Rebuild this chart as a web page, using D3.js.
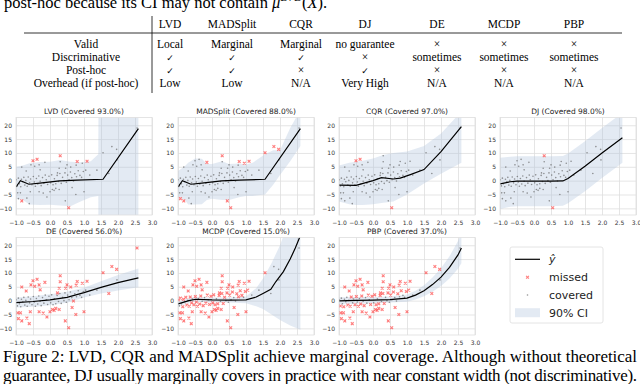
<!DOCTYPE html>
<html>
<head>
<meta charset="utf-8">
<script src="https://cdn.jsdelivr.net/npm/d3@7"></script>
<style>
body { margin: 0; background: #fff; }
svg { display: block; }
</style>
</head>
<body>
<div id="chart"></div>
<script>
// ---- table data ----
var methods = ["LVD", "MADSplit", "CQR", "DJ", "DE", "MCDP", "PBP"];
var rowLabels = ["Valid", "Discriminative", "Post-hoc", "Overhead (if post-hoc)"];
var tableCells = [
  ["Local", "\u2713", "\u2713", "Low"],
  ["Marginal", "\u2713", "\u2713", "Low"],
  ["Marginal", "\u2713", "\u00d7", "N/A"],
  ["no guarantee", "\u00d7", "\u2713", "Very High"],
  ["\u00d7", "sometimes", "\u00d7", "N/A"],
  ["\u00d7", "sometimes", "\u00d7", "N/A"],
  ["\u00d7", "sometimes", "\u00d7", "N/A"]
];

// ---- scatter data (same points in every panel) ----
var pointX = [-0.83, -0.95, -0.87, -0.93, -0.83, -0.61, -0.58, -0.56, -0.50, -0.38, -0.45, -0.32, -0.29, -0.32, -0.15,
  -0.09, 0.00, 0.07, 0.17, 0.27, 0.30, 0.30, 0.27, 0.46, 0.50, 0.61, 0.45, 0.55, 0.80, 0.77, 0.76, 0.95, 1.09, 1.00,
  1.56, 1.82, 1.96, 2.56, -0.68, -0.20, 0.12, 0.22, -0.70, 0.65,
  -0.99, -0.96, -0.93, -0.90, -0.86, -0.84, -0.80, -0.77, -0.74, -0.71, -0.67, -0.64, -0.60, -0.57, -0.53,
  -0.49, -0.46, -0.43, -0.40, -0.36, -0.33, -0.29, -0.26, -0.22, -0.18, -0.14, -0.11, -0.07, -0.03,
  0.02, 0.05, 0.09, 0.13, 0.17, 0.21, 0.25, 0.29, 0.33, 0.37, 0.41, 0.44, 0.48,
  0.52, 0.56, 0.60, 0.64, 0.69, 0.73, 0.78, 0.83, 0.88, 0.93, 0.98,
  1.05, 1.17, 1.38, 1.97, 1.73];
var pointY = [4.9, -4.4, -4.4, -6.5, -7.3, -8.3, -4.0, 5.7, 7.2, 7.7, 5.2, 5.7, 3.9, -4.0, 6.6,
  -5.9, -4.0, -3.2, -2.8, -3.2, 9.0, 6.8, 4.5, 4.5, 5.7, 4.9, -7.3, -9.8, 6.9, 5.6, -5.0, 6.3, 7.0, -4.0,
  10.1, 12.3, 11.3, 19.0, -6.3, -4.5, -3.5, 2.8, 3.5, -2.5,
  0.3, -1.9, 0.9, -1.1, -2.2, 0.5, -0.4, 1.2, -1.6, 0.1, -2.0, 1.3, -0.8, 0.6, -1.5,
  1.5, -0.5, -2.0, 0.8, -1.2, 1.7, -0.2, -1.8, 1.1, -0.9, 2.0, 0.3, -1.4, 1.6,
  -0.8, 2.1, -1.5, 0.7, -1.1, 1.9, -0.3, 2.6, -1.0, 1.2, 0.0, 2.8, -0.6,
  2.0, 0.3, 3.1, 1.1, -0.1, 2.5, 1.4, 3.6, 1.9, 1.2, 3.3,
  3.8, 2.0, 3.8, 7.5, 2.6];

// ---- per-panel prediction lines and intervals ----
var titles = ["LVD (Covered 93.0%)", "MADSplit (Covered 88.0%)", "CQR (Covered 97.0%)", "DJ (Covered 98.0%)",
  "DE (Covered 56.0%)", "MCDP (Covered 15.0%)", "PBP (Covered 37.0%)"];

var baseLineX = [-1, -0.87, -0.62, -0.3, 0.28, 0.8, 1.56, 2.6];
var baseLineY = [-2.3, 0.0, -1.3, -0.9, -0.1, 0.2, 0.5, 18.8];

var lvdBandX = [-1, -0.8, -0.6, -0.3, 0, 0.3, 0.6, 0.9, 1.2, 1.42, 1.43, 2.6];
var lvdLower = [-6.5, -7.0, -8.6, -8.8, -8.7, -9.0, -9.2, -7.5, -6.0, -5.5, -40, -40];
var lvdUpper = [5.0, 5.5, 6.3, 6.7, 6.8, 7.5, 6.8, 6.6, 7.0, 9.5, 40, 40];

var madBandX = [-1, -0.8, -0.7, -0.5, -0.3, -0.15, 0, 0.3, 0.5, 0.8, 1.0, 1.2, 1.56, 1.8, 2.0, 2.3, 2.6];
var madLower = [-6.0, -7.0, -8.6, -8.6, -8.5, -7.0, -6.5, -7.0, -7.0, -6.0, -5.5, -5.5, -5.0, -1.5, 2.0, 7.0, 12.5];
var madUpper = [3.5, 5.2, 6.5, 8.0, 7.9, 6.0, 6.0, 7.0, 6.0, 6.2, 5.8, 6.5, 9.5, 11.0, 11.0, 19.0, 25.5];

var cqrLineX = [-1, -0.5, 0, 0.25, 0.6, 0.8, 1.1, 1.5, 2.0, 2.6];
var cqrLineY = [-1.6, -1.7, 0.0, 1.1, 0.6, 0.9, 2.2, 4.0, 10.5, 19.5];
var cqrBandX = [-1, -0.7, -0.5, -0.3, 0, 0.3, 0.6, 1.0, 1.5, 2.0, 2.3, 2.6];
var cqrLower = [-7.5, -8.5, -8.8, -8.8, -8.5, -8.0, -7.5, -5.0, -1.0, 2.5, 4.5, 6.5];
var cqrUpper = [5.5, 6.5, 6.8, 7.2, 8.0, 9.3, 10.0, 10.5, 12.5, 17.0, 21.0, 25.0];

var djLineX = [-1, -0.7, -0.5, 0, 0.5, 0.85, 1.0, 1.5, 2.0, 2.6];
var djLineY = [-1.2, -0.4, -0.2, -0.2, -0.2, -0.1, 0.8, 5.2, 10.0, 15.5];
var djLower = [-10.2, -9.4, -9.2, -9.2, -9.2, -9.1, -8.2, -3.8, 1.0, 6.5];
var djUpper = [8.3, 8.6, 8.8, 8.8, 8.8, 8.9, 9.8, 14.2, 19.0, 24.5];

var deLineX = [-1, -0.5, 0, 0.5, 1.0, 1.5, 2.0, 2.6];
var deLineY = [-0.7, -0.3, 0.3, 1.2, 2.9, 4.8, 6.5, 8.2];
var deLower = [-2.5, -2.2, -1.7, -0.8, 1.1, 2.6, 3.7, 4.8];
var deUpper = [1.1, 1.6, 2.3, 3.2, 4.7, 7.0, 9.3, 11.6];

var mcdpLineX = [-1, -0.68, -0.48, 0, 0.5, 1.0, 1.3, 1.5, 1.73, 1.88, 2.1, 2.3, 2.45, 2.6];
var mcdpLineY = [-1.2, 0.0, 0.5, 0.25, 0.2, 0.3, 1.3, 2.6, 4.1, 6.9, 10.5, 15.0, 19.0, 23.5];
var mcdpBandX = [-1, -0.7, -0.5, 0, 0.5, 1.0, 1.3, 1.5, 1.75, 2.0, 2.3, 2.6];
var mcdpLower = [-2.1, -0.9, -0.4, -0.65, -0.7, -0.9, -2.0, -3.0, -5.0, -7.0, -9.0, -10.5];
var mcdpUpper = [-0.3, 0.9, 1.4, 1.15, 1.1, 1.5, 4.5, 8.0, 13.5, 20.0, 30.0, 40.0];

var pbpLineX = [-1, -0.5, 0, 0.5, 1.0, 1.25, 1.5, 1.75, 2.0, 2.25, 2.5, 2.6];
var pbpLineY = [-0.1, 0.1, 0.2, 0.4, 0.9, 2.0, 3.6, 5.8, 8.5, 12.0, 16.5, 19.0];
var pbpLower = [-1.4, -1.1, -0.9, -0.7, -0.4, 0.4, 1.6, 3.2, 5.3, 8.0, 11.5, 13.5];
var pbpUpper = [1.2, 1.3, 1.3, 1.5, 2.2, 3.6, 5.6, 8.4, 11.7, 16.0, 21.5, 24.5];

var xTicks = [-1.0, -0.5, 0.0, 0.5, 1.0, 1.5, 2.0, 2.5, 3.0];
var yTicks = [-10, -5, 0, 5, 10, 15, 20];
var legendLabels = ["\u0177", "missed", "covered", "90% CI"];

var captionLines = [
  "Figure 2:  LVD, CQR and MADSplit achieve marginal coverage. Although without theoretical",
  "guarantee, DJ usually marginally covers in practice with near constant width (not discriminative)."
];

// ---- layout ----
var svgWidth = 640, svgHeight = 384;
var panelLeft = [16, 178, 339, 500];
var rowTop = [117.5, 237.5];
var plotW = 136, plotH = 97.5;
var serif = "'Liberation Serif', 'Times New Roman', serif";
var sans = "'DejaVu Sans', sans-serif";

var svg = d3.select("#chart").append("svg")
  .attr("width", svgWidth)
  .attr("height", svgHeight);

// intro line, cut by the top edge as in the page crop
var intro = svg.append("text")
  .attr("x", 4).attr("y", 8)
  .style("font-family", serif).style("font-size", "16.5px");
intro.append("tspan").text("post-hoc because its CI may not contain ");
intro.append("tspan").style("font-style", "italic").text("\u03bc\u0302");
intro.append("tspan").attr("dy", -7).style("font-size", "11px").text("LVD");
intro.append("tspan").attr("dy", 7).text("(");
intro.append("tspan").style("font-style", "italic").text("X");
intro.append("tspan").text(").");

// ---- table ----
var colX = [170, 232, 301, 365, 437, 504, 574];
var labelX = 86;
var table = svg.append("g").style("font-family", serif).style("font-size", "11.5px");

table.selectAll("text.head")
  .data(methods)
  .enter()
  .append("text")
  .attr("class", "head")
  .attr("x", (d, i) => colX[i])
  .attr("y", 28)
  .attr("text-anchor", "middle")
  .text(d => d);

table.append("line")
  .attr("x1", 24).attr("x2", 622)
  .attr("y1", 33).attr("y2", 33)
  .attr("stroke", "#000").attr("stroke-width", 0.8);

table.append("line")
  .attr("x1", 152).attr("x2", 152)
  .attr("y1", 16).attr("y2", 93)
  .attr("stroke", "#000").attr("stroke-width", 0.8);

var rowY = [48, 61, 74, 87];
table.selectAll("text.rowlab")
  .data(rowLabels)
  .enter()
  .append("text")
  .attr("class", "rowlab")
  .attr("x", labelX)
  .attr("y", (d, i) => rowY[i])
  .attr("text-anchor", "middle")
  .text(d => d);

tableCells.forEach(function(col, ci) {
  table.selectAll("text.c" + ci)
    .data(col)
    .enter()
    .append("text")
    .attr("class", "c" + ci)
    .attr("x", colX[ci])
    .attr("y", (d, i) => rowY[i])
    .attr("text-anchor", "middle")
    .style("font-family", d => d === "\u2713" ? sans : serif)
    .style("font-size", d => d === "\u2713" ? "9px" : "11.5px")
    .text(d => d);
});

// ---- panels ----
function interp(xs, ys, v) {
  if (v <= xs[0]) return ys[0];
  if (v >= xs[xs.length - 1]) return ys[ys.length - 1];
  for (var i = 1; i < xs.length; i++) {
    if (v <= xs[i]) {
      var t = (v - xs[i - 1]) / (xs[i] - xs[i - 1]);
      return ys[i - 1] + t * (ys[i] - ys[i - 1]);
    }
  }
}

var panels = [
  { lx: baseLineX, ly: baseLineY, bx: lvdBandX, lo: lvdLower, hi: lvdUpper },
  { lx: baseLineX, ly: baseLineY, bx: madBandX, lo: madLower, hi: madUpper },
  { lx: cqrLineX, ly: cqrLineY, bx: cqrBandX, lo: cqrLower, hi: cqrUpper },
  { lx: djLineX, ly: djLineY, bx: djLineX, lo: djLower, hi: djUpper },
  { lx: deLineX, ly: deLineY, bx: deLineX, lo: deLower, hi: deUpper },
  { lx: mcdpLineX, ly: mcdpLineY, bx: mcdpBandX, lo: mcdpLower, hi: mcdpUpper },
  { lx: pbpLineX, ly: pbpLineY, bx: pbpLineX, lo: pbpLower, hi: pbpUpper }
];

var x = d3.scaleLinear().domain([-1, 3]).range([0, plotW]);
var y = d3.scaleLinear().domain([-12.4, 22.8]).range([plotH, 0]);
var fmtX = d => d3.format(".1f")(d).replace("-", "\u2212");
var fmtY = d => String(d).replace("-", "\u2212");

var points = pointX.map((px, i) => ({ x: px, y: pointY[i] }));
var missPath = "M-1.4,-1.4L1.4,1.4M-1.4,1.4L1.4,-1.4";

panels.forEach(function(p, k) {
  var col = k % 4, row = Math.floor(k / 4);
  var g = svg.append("g")
    .attr("transform", `translate(${panelLeft[col]}, ${rowTop[row]})`);

  g.append("clipPath").attr("id", "clip" + k)
    .append("rect").attr("width", plotW).attr("height", plotH);

  // grid + tick labels
  var gx = g.append("g")
    .attr("transform", `translate(0, ${plotH})`)
    .call(d3.axisBottom(x).tickValues(xTicks).tickFormat(fmtX).tickSize(-plotH).tickPadding(6));
  var gy = g.append("g")
    .call(d3.axisLeft(y).tickValues(yTicks).tickFormat(fmtY).tickSize(-plotW).tickPadding(4));
  [gx, gy].forEach(function(a) {
    a.select(".domain").remove();
    a.selectAll("line").attr("stroke", "#dedede").attr("stroke-width", 0.8);
    a.selectAll("text").style("font-family", sans).style("font-size", "6px").attr("fill", "#333");
  });

  var inner = g.append("g").attr("clip-path", `url(#clip${k})`);

  var bandData = p.bx.map((bx, i) => ({ x: bx, lo: p.lo[i], hi: p.hi[i] }));
  inner.append("path")
    .datum(bandData)
    .attr("fill", "#b0c4de")
    .attr("opacity", 0.35)
    .attr("d", d3.area().x(d => x(d.x)).y0(d => y(d.lo)).y1(d => y(d.hi)));

  var isMissed = d => d.y < interp(p.bx, p.lo, d.x) || d.y > interp(p.bx, p.hi, d.x);

  inner.selectAll("circle")
    .data(points.filter(d => !isMissed(d)))
    .enter()
    .append("circle")
    .attr("cx", d => x(d.x))
    .attr("cy", d => y(d.y))
    .attr("r", 0.8)
    .attr("fill", "#666")
    .attr("opacity", 0.7);

  inner.selectAll("path.miss")
    .data(points.filter(isMissed))
    .enter()
    .append("path")
    .attr("class", "miss")
    .attr("transform", d => `translate(${x(d.x)}, ${y(d.y)})`)
    .attr("d", missPath)
    .attr("stroke", "#ff4a4a")
    .attr("stroke-width", 1.1)
    .attr("opacity", 0.7);

  var lineData = p.lx.map((lx, i) => ({ x: lx, y: p.ly[i] }));
  inner.append("path")
    .datum(lineData)
    .attr("fill", "none")
    .attr("stroke", "#000")
    .attr("stroke-width", 1.2)
    .attr("d", d3.line().x(d => x(d.x)).y(d => y(d.y)));

  g.append("rect")
    .attr("width", plotW).attr("height", plotH)
    .attr("fill", "none").attr("stroke", "#dedede").attr("stroke-width", 0.8);

  g.append("text")
    .attr("x", plotW / 2).attr("y", -3.5)
    .attr("text-anchor", "middle")
    .style("font-family", sans).style("font-size", "7.5px").attr("fill", "#222")
    .text(titles[k]);
});

// ---- legend ----
var leg = svg.append("g").attr("transform", "translate(510, 247)")
  .style("font-family", sans).style("font-size", "11px");
leg.append("rect")
  .attr("width", 93).attr("height", 76).attr("rx", 2)
  .attr("fill", "#fff").attr("stroke", "#ddd").attr("stroke-width", 0.8);
var legY = [12.3, 30.3, 48, 65.7];
leg.append("line").attr("x1", 5).attr("x2", 30).attr("y1", legY[0]).attr("y2", legY[0])
  .attr("stroke", "#000").attr("stroke-width", 1.2);
leg.append("path").attr("transform", `translate(17.5, ${legY[1]})`)
  .attr("d", missPath)
  .attr("stroke", "#ff4a4a").attr("stroke-width", 1.1).attr("opacity", 0.7);
leg.append("circle").attr("cx", 17.5).attr("cy", legY[2]).attr("r", 0.8)
  .attr("fill", "#666").attr("opacity", 0.7);
leg.append("rect").attr("x", 5).attr("y", legY[3] - 4.5).attr("width", 25).attr("height", 9)
  .attr("fill", "#b0c4de").attr("opacity", 0.35);
leg.selectAll("text.lab")
  .data(legendLabels)
  .enter()
  .append("text")
  .attr("class", "lab")
  .attr("x", 39)
  .attr("y", (d, i) => legY[i])
  .attr("dy", "0.35em")
  .style("font-style", (d, i) => i === 0 ? "italic" : "normal")
  .attr("fill", "#222")
  .text(d => d);

// ---- caption ----
svg.selectAll("text.cap")
  .data(captionLines)
  .enter()
  .append("text")
  .attr("class", "cap")
  .attr("x", 3)
  .attr("y", (d, i) => 362 + i * 18.5)
  .attr("textLength", 634)
  .attr("lengthAdjust", "spacing")
  .style("font-family", serif)
  .style("font-size", "17px")
  .text(d => d);
</script>
</body>
</html>
